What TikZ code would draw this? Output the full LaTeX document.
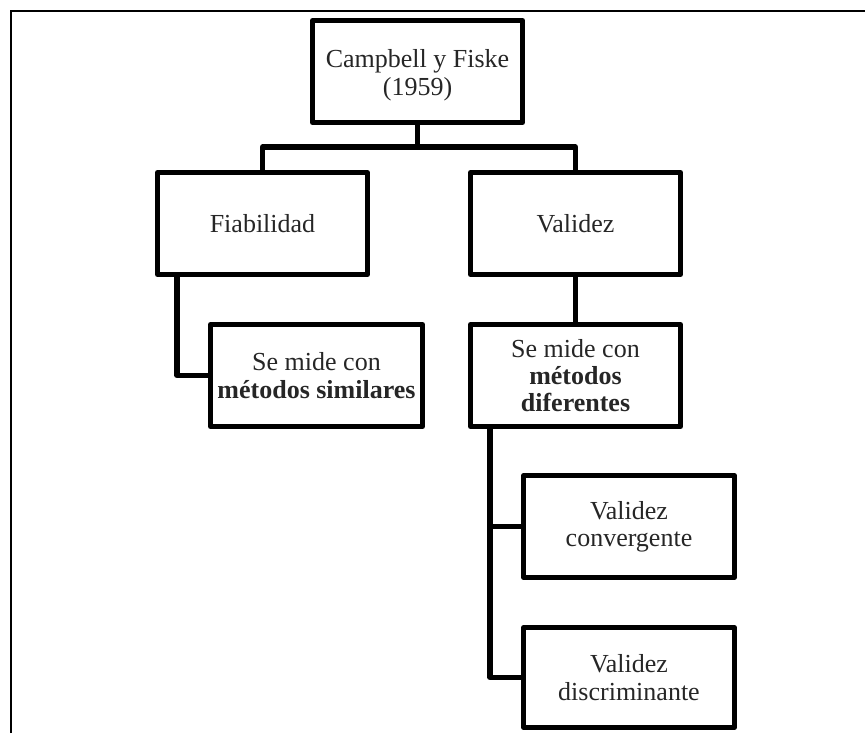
\documentclass[tikz,border=0pt]{standalone}
\usepackage{fontspec}
\setmainfont{Liberation Serif}
\begin{document}
\begin{tikzpicture}[x=0.75pt,y=-0.75pt,
  box/.style={draw=black,line width=3.8pt,line join=round,inner sep=0pt,outer sep=0pt,
    minimum width=157.5pt,minimum height=76.5pt,align=center,
    font=\fontsize{19.5pt}{20.5pt}\selectfont,text=black!85},
  link/.style={draw=black,line width=3.8pt,line join=round},
  frame/.style={draw=black,line width=1.6pt}]
\useasboundingbox (0,0) rectangle (865,733);
\draw[frame] (11,733) -- (11,11) -- (865,11);
\node[box] (camp) at (417.5,71.5) {\rule{0pt}{19pt}Campbell y Fiske\\(1959)};
\node[box] (fia) at (262.5,223.5) {Fiabilidad};
\node[box] (val) at (575.5,223.5) {Validez};
\node[box,minimum width=159pt] (sim) at (316.5,375.5) {Se mide con\\\textbf{métodos similares}};
\node[box] (dif) at (575.5,375.5) {Se mide con\\\textbf{métodos}\\\textbf{diferentes}};
\node[box,minimum width=158pt] (conv) at (629,526.5) {Validez\\convergente};
\node[box,minimum width=158pt,minimum height=75pt] (disc) at (629,677.5) {Validez\\discriminante};
\coordinate (j) at (417.5,147);
\draw[link] (camp.south) -- (j);
\draw[link] (fia.north) |- (j) -| (val.north);
\draw[link] ([xshift=14.6pt]fia.south west) |- (sim.west);
\draw[link] (val.south) -- (dif.north);
\coordinate (d0) at ([xshift=14.6pt]dif.south west);
\draw[link] (d0) |- (disc.west);
\draw[link] (conv.west) -- (conv.west -| d0);
\end{tikzpicture}
\end{document}
